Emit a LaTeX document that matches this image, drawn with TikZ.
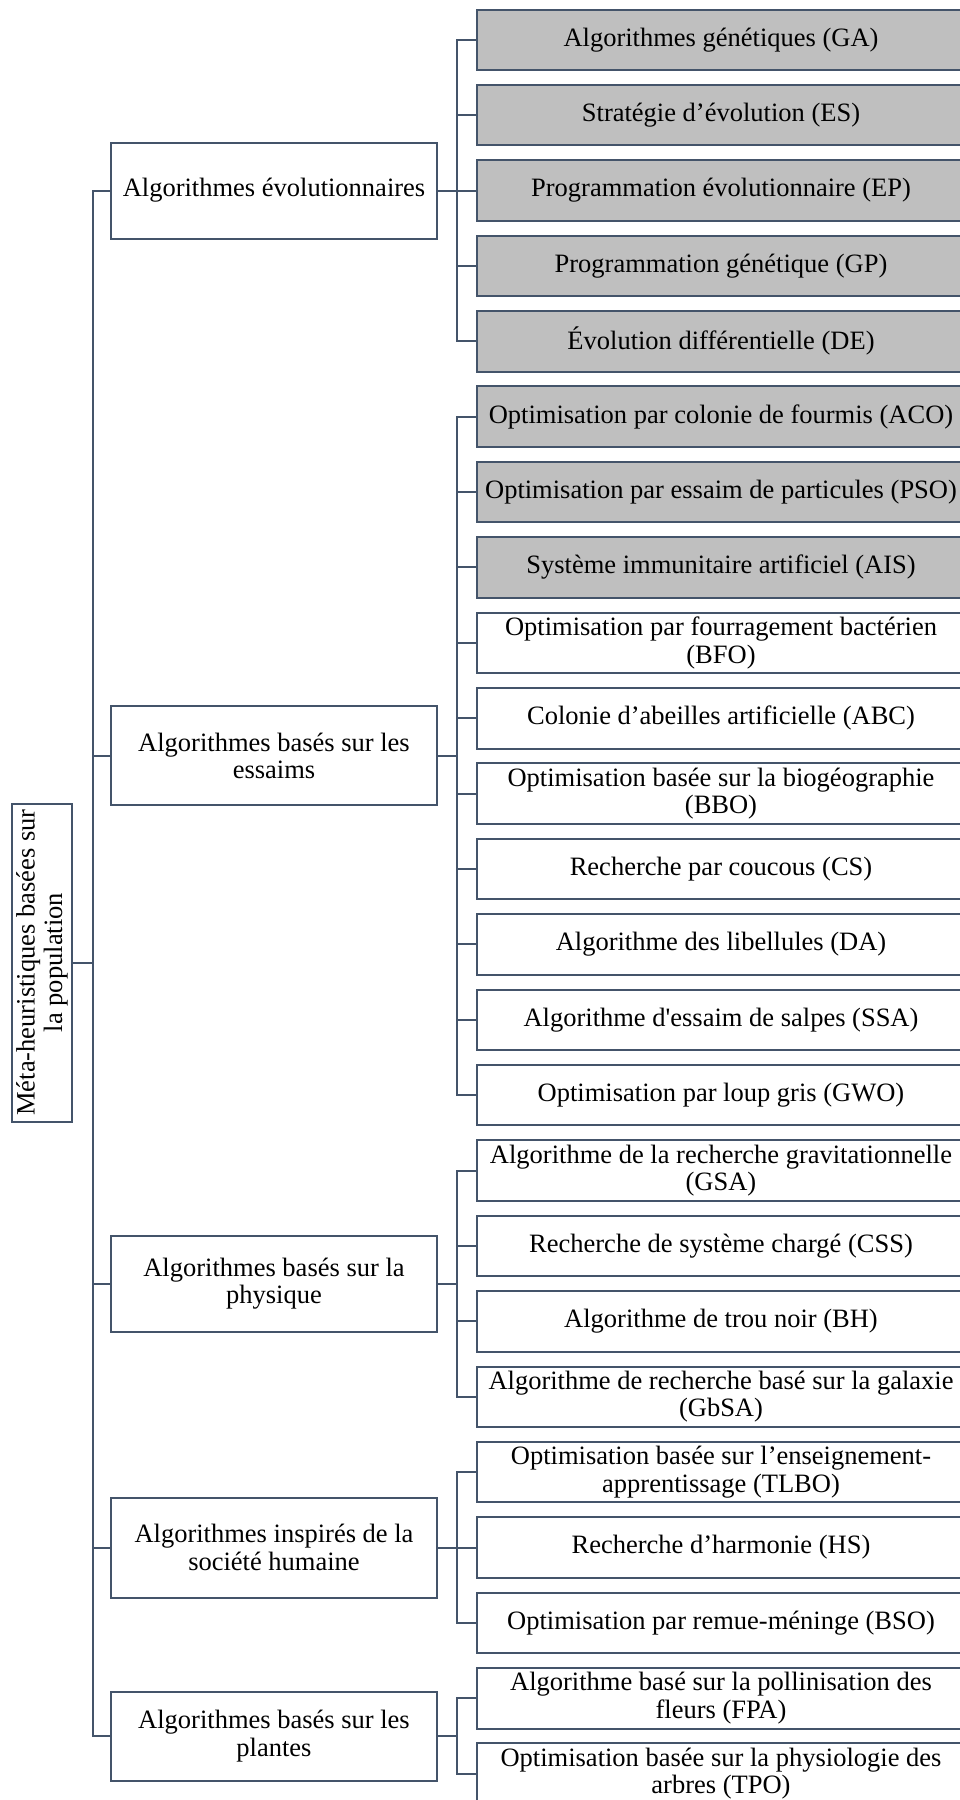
\documentclass[tikz,border=0pt]{standalone}
\usepackage{fontspec}
\setmainfont{Liberation Serif}[Ligatures=TeXOff]
\definecolor{edgeC}{HTML}{44546A}
\definecolor{shadeC}{HTML}{BFBFBF}
\begin{document}
\begin{tikzpicture}[x=1pt,y=-1pt,
  every node/.style={font=\fontsize{26.5}{27.5}\selectfont, align=center, inner sep=0pt},
  wire/.style={draw=edgeC, line width=2pt, line join=miter},
  leafbox/.style={draw=edgeC, line width=2pt, anchor=west, minimum width=489pt, minimum height=60.5pt},
  greyleaf/.style={leafbox, fill=shadeC},
  catbox/.style={draw=edgeC, line width=2pt, fill=white, minimum width=326pt},
  rootbox/.style={draw=edgeC, line width=2pt, fill=white, rotate=90, minimum width=318pt, minimum height=60.6pt}]
\useasboundingbox (0,0) rectangle (959,1800);

% root and first level
\node[rootbox] (root) at (42,962.5) {Méta-heuristiques basées sur\\la population};
\node[catbox, minimum height=96pt]  (evo) at (274,190.53)  {Algorithmes évolutionnaires};
\node[catbox, minimum height=99pt]  (ess) at (274,755.96)  {Algorithmes basés sur les\\essaims};
\node[catbox, minimum height=96pt]  (phy) at (274,1283.69) {Algorithmes basés sur la\\physique};
\node[catbox, minimum height=100pt] (hum) at (274,1547.55) {Algorithmes inspirés de la\\société humaine};
\node[catbox, minimum height=89pt]  (pla) at (274,1736.03) {Algorithmes basés sur les\\plantes};

% evolutionary algorithms
\node[greyleaf] (ga)  at (475.5,39.75)  {Algorithmes génétiques (GA)};
\node[greyleaf] (es)  at (475.5,115.14) {Stratégie d’évolution (ES)};
\node[greyleaf] (ep)  at (475.5,190.53) {Programmation évolutionnaire (EP)};
\node[greyleaf] (gp)  at (475.5,265.92) {Programmation génétique (GP)};
\node[greyleaf] (de)  at (475.5,341.31) {Évolution différentielle (DE)};

% swarm algorithms
\node[greyleaf] (aco) at (475.5,416.70)  {Optimisation par colonie de fourmis (ACO)};
\node[greyleaf] (pso) at (475.5,492.09)  {Optimisation par essaim de particules (PSO)};
\node[greyleaf] (ais) at (475.5,567.48)  {Système immunitaire artificiel (AIS)};
\node[leafbox]  (bfo) at (475.5,642.87)  {Optimisation par fourragement bactérien\\(BFO)};
\node[leafbox]  (abc) at (475.5,718.26)  {Colonie d’abeilles artificielle (ABC)};
\node[leafbox]  (bbo) at (475.5,793.65)  {Optimisation basée sur la biogéographie\\(BBO)};
\node[leafbox]  (cs)  at (475.5,869.04)  {Recherche par coucous (CS)};
\node[leafbox]  (da)  at (475.5,944.43)  {Algorithme des libellules (DA)};
\node[leafbox]  (ssa) at (475.5,1019.82) {Algorithme d'essaim de salpes (SSA)};
\node[leafbox]  (gwo) at (475.5,1095.21) {Optimisation par loup gris (GWO)};

% physics-based algorithms
\node[leafbox]  (gsa)  at (475.5,1170.60) {Algorithme de la recherche gravitationnelle\\(GSA)};
\node[leafbox]  (css)  at (475.5,1245.99) {Recherche de système chargé (CSS)};
\node[leafbox]  (bh)   at (475.5,1321.38) {Algorithme de trou noir (BH)};
\node[leafbox]  (gbsa) at (475.5,1396.77) {Algorithme de recherche basé sur la galaxie\\(GbSA)};

% human-society algorithms
\node[leafbox]  (tlbo) at (475.5,1472.16) {Optimisation basée sur l’enseignement-\\apprentissage (TLBO)};
\node[leafbox]  (hs)   at (475.5,1547.55) {Recherche d’harmonie (HS)};
\node[leafbox]  (bso)  at (475.5,1622.94) {Optimisation par remue-méninge (BSO)};

% plant-based algorithms
\node[leafbox]  (fpa)  at (475.5,1698.33) {Algorithme basé sur la pollinisation des\\fleurs (FPA)};
\node[leafbox]  (tpo)  at (475.5,1773.72) {Optimisation basée sur la physiologie des\\arbres (TPO)};

% connectors: root to categories
\foreach \c in {evo,ess,phy,hum,pla}
  \draw[wire] (root.south) -- ++(20,0) |- (\c.west);

% connectors: categories to leaves
\foreach \c/\leaves in {evo/{ga,es,ep,gp,de},
                        ess/{aco,pso,ais,bfo,abc,bbo,cs,da,ssa,gwo},
                        phy/{gsa,css,bh,gbsa},
                        hum/{tlbo,hs,bso},
                        pla/{fpa,tpo}}
  \foreach \l in \leaves
    \draw[wire] (\c.east) -- ++(19,0) |- (\l.west);
\end{tikzpicture}
\end{document}
